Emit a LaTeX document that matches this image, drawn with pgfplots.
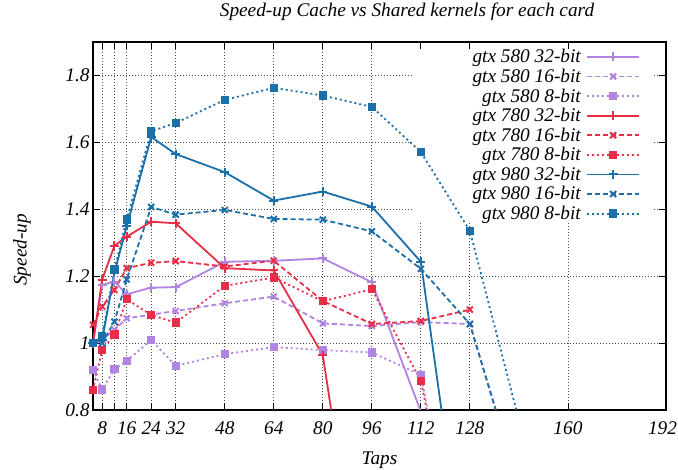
\documentclass[border=0pt]{standalone}
\usepackage{pgfplots}
\pgfplotsset{compat=1.18}
\usepackage{fontspec}
\setmainfont{Liberation Serif}
\newcommand\fsz{\fontsize{19.3bp}{20bp}\selectfont\itshape}
\definecolor{cPur}{RGB}{176,132,224}
\definecolor{cRed}{RGB}{232,46,70}
\definecolor{cBlu}{RGB}{28,112,170}

% grid below a white patch (key area), ticks and border above it
\pgfplotsset{
  layers/gpl/.define layer set={axis background,axis grid,pre main,axis ticks,axis lines,axis tick labels,main,axis descriptions,axis foreground}{
    grid style={/pgfplots/on layer=axis grid},
    tick style={/pgfplots/on layer=axis ticks},
    axis line style={/pgfplots/on layer=axis lines},
    label style={/pgfplots/on layer=axis descriptions},
    legend style={/pgfplots/on layer=axis descriptions},
    title style={/pgfplots/on layer=axis descriptions},
    tick label style={/pgfplots/on layer=axis tick labels},
  },
  s32/.style={line width=1.8bp, solid, mark=+, mark size=4.5bp, mark options={solid, line width=2bp}},
  s16/.style={line width=1.8bp, dash pattern=on 5bp off 3bp, mark=x, mark size=4.2bp, mark options={solid, line width=2bp}},
  s8/.style={line width=1.8bp, dash pattern=on 2bp off 3bp, mark=square*, mark size=3.3bp, mark options={solid}},
}

\begin{document}
\begin{tikzpicture}
\begin{axis}[
  set layers=gpl,
  scale only axis, width=573bp, height=368bp,
  xmin=5, xmax=192, ymin=0.8, ymax=1.9,
  xtick={8,12,16,24,32,48,64,80,96,112,128,160,192},
  xticklabels={8,,16,24,32,48,64,80,96,112,128,160,\makebox[22bp][r]{192}},
  ytick={0.8,1,1.2,1.4,1.6,1.8},
  yticklabels={0.8,1,1.2,1.4,1.6,1.8},
  tick align=inside, major tick length=7bp,
  tick style={black, line width=0.8bp},
  grid=major,
  grid style={black!70, line width=0.8bp, dash pattern=on 1bp off 2bp},
  axis line style={line width=1.2bp},
  tick label style={font=\fsz},
  xticklabel style={yshift=-8bp},
  label style={font=\fsz},
  xlabel={Taps}, ylabel={Speed-up},
  x label style={at={(axis description cs:0.5,0)}, anchor=center, yshift=-50bp},
  y label style={at={(axis description cs:-0.124,0.435)}, anchor=center},
  title={Speed-up Cache vs Shared kernels for each card},
  title style={font=\fsz, at={(axis description cs:0.548,1)}, anchor=center, yshift=24bp},
  legend style={font=\fsz, draw=none, fill=none, at={(axis description cs:0.955,0.984)},
    anchor=north east, inner sep=0pt, row sep=1.9bp, column sep=4bp, nodes={inner sep=1.4bp}},
  legend cell align=right,
  legend plot pos=right,
  legend image code/.code={\draw[mark repeat=2,mark phase=2,#1] plot coordinates {(0bp,0bp)(26bp,0bp)(52bp,0bp)};},
]
\begin{pgfonlayer}{pre main}
\fill[white] (axis cs:109.8,1.362) rectangle (axis cs:188,1.9);
\end{pgfonlayer}

\addplot[s32, cPur] coordinates {
  (5,1.00) (8,1.174) (12,1.184) (16,1.146) (24,1.166) (32,1.167) (48,1.243) (64,1.246) (80,1.253) (96,1.182) (112,0.795)
};
\addlegendentry{gtx 580 32-bit}
\addplot[s16, cPur] coordinates {
  (5,1.00) (8,1.01) (12,1.04) (16,1.074) (24,1.085) (32,1.096) (48,1.119) (64,1.139) (80,1.059) (96,1.051) (112,1.063) (128,1.057) (144,0.57)
};
\addlegendentry{gtx 580 16-bit}
\addplot[s8, cPur] coordinates {
  (5,0.92) (8,0.861) (12,0.922) (16,0.947) (24,1.009) (32,0.932) (48,0.967) (64,0.988) (80,0.979) (96,0.972) (112,0.905) (128,0.15)
};
\addlegendentry{gtx 580 8-bit}

\addplot[s32, cRed] coordinates {
  (5,1.00) (8,1.19) (12,1.291) (16,1.318) (24,1.363) (32,1.358) (48,1.224) (64,1.217) (80,0.964) (96,0.0)
};
\addlegendentry{gtx 780 32-bit}
\addplot[s16, cRed] coordinates {
  (5,1.055) (8,1.109) (12,1.159) (16,1.224) (24,1.24) (32,1.245) (48,1.229) (64,1.246) (80,1.126) (96,1.057) (112,1.066) (128,1.10)
};
\addlegendentry{gtx 780 16-bit}
\addplot[s8, cRed] coordinates {
  (5,0.86) (8,0.98) (12,1.026) (16,1.131) (24,1.084) (32,1.061) (48,1.171) (64,1.196) (80,1.125) (96,1.161) (112,0.887) (128,0.17)
};
\addlegendentry{gtx 780 8-bit}

\addplot[s32, cBlu] coordinates {
  (5,1.00) (8,1.01) (12,1.21) (16,1.35) (24,1.616) (32,1.565) (48,1.511) (64,1.426) (80,1.453) (96,1.408) (112,1.243) (128,0.19)
};
\addlegendentry{gtx 980 32-bit}
\addplot[s16, cBlu] coordinates {
  (5,1.00) (8,1.00) (12,1.064) (16,1.19) (24,1.407) (32,1.384) (48,1.398) (64,1.371) (80,1.369) (96,1.334) (112,1.222) (128,1.057) (144,0.57)
};
\addlegendentry{gtx 980 16-bit}
\addplot[s8, cBlu] coordinates {
  (5,1.00) (8,1.02) (12,1.22) (16,1.37) (24,1.633) (32,1.658) (48,1.727) (64,1.763) (80,1.74) (96,1.706) (112,1.571) (128,1.335) (144,0.77)
};
\addlegendentry{gtx 980 8-bit}
\end{axis}
\pgfresetboundingbox
\path (-93bp,-60bp) rectangle (585bp,410bp);
\end{tikzpicture}
\end{document}
